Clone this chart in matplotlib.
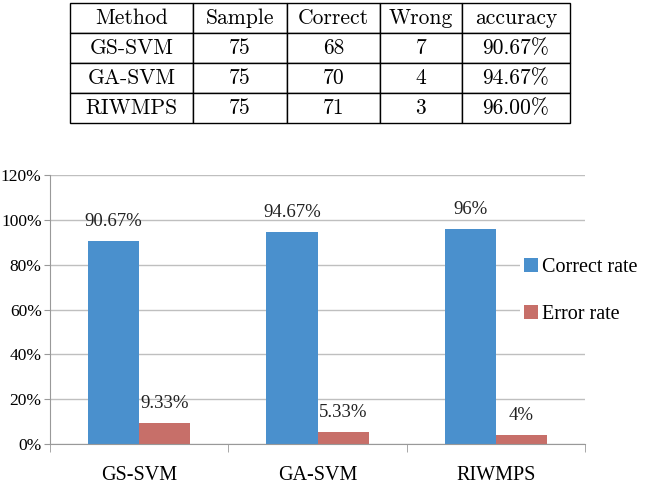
import matplotlib
matplotlib.use('Agg')
import matplotlib.pyplot as plt
import numpy as np

# данные
methods = ['GS-SVM', 'GA-SVM', 'RIWMPS']
samples = [75, 75, 75]
correct = [68, 70, 71]
wrong = [7, 4, 3]
accuracy = ['90.67%', '94.67%', '96.00%']

correct_rate = [90.67, 94.67, 96]
error_rate = [9.33, 5.33, 4]
correct_labels = ['90.67%', '94.67%', '96%']
error_labels = ['9.33%', '5.33%', '4%']

col_names = ['Method', 'Sample', 'Correct', 'Wrong', 'accuracy']

blue = '#4A90CD'
red = '#C76F69'
serif = ['Liberation Serif', 'DejaVu Serif']

fig = plt.figure(figsize=(6.46, 4.98), dpi=100)

# таблица сверху
tax = fig.add_axes([70 / 646, 1 - 123 / 498, 500 / 646, 120 / 498])
tax.axis('off')
cells = [[m, str(s), str(c), str(w), a]
         for m, s, c, w, a in zip(methods, samples, correct, wrong, accuracy)]
widths = np.array([122.7, 94, 93.3, 81.7, 108.3])
tbl = tax.table(cellText=cells, colLabels=col_names, cellLoc='center',
                colWidths=list(widths / widths.sum()), bbox=[0, 0, 1, 1])
tbl.auto_set_font_size(False)
for (r, c), cell in tbl.get_celld().items():
    cell.set_linewidth(1.0)
    cell.set_edgecolor('black')
    cell.get_text().set_fontsize(15.5)
    cell.get_text().set_family(['cmr10', 'DejaVu Serif'])

# столбчатая диаграмма
ax = fig.add_axes([50 / 646, 54 / 498, 535 / 646, 269 / 498])
x = np.arange(len(methods))
w = 0.286
b1 = ax.bar(x - w / 2, correct_rate, w, color=blue, label='Correct rate', zorder=2)
b2 = ax.bar(x + w / 2, error_rate, w, color=red, label='Error rate', zorder=2)

for rect, lab in zip(b1, correct_labels):
    ax.annotate(lab, (rect.get_x() + rect.get_width() / 2, rect.get_height()),
                xytext=(0, 14), textcoords='offset points', ha='center', va='center',
                fontsize=13.5, family=serif, color='#222222')
for rect, lab in zip(b2, error_labels):
    ax.annotate(lab, (rect.get_x() + rect.get_width() / 2, rect.get_height()),
                xytext=(0, 14), textcoords='offset points', ha='center', va='center',
                fontsize=13.5, family=serif, color='#222222')

ax.set_xlim(-0.5, len(methods) - 0.5)
ax.set_ylim(0, 120)
ax.set_yticks(np.arange(0, 121, 20))
ax.set_yticklabels([f'{v}%' for v in range(0, 121, 20)], family=serif, fontsize=12.5)
ax.set_xticks(x)
ax.set_xticklabels(methods, family=serif, fontsize=14.5)
ax.set_xticks(np.arange(-0.5, len(methods), 1), minor=True)
ax.tick_params(axis='x', which='major', length=0, pad=16)
ax.tick_params(axis='x', which='minor', length=6, color='#999999')
ax.tick_params(axis='y', length=4, color='#999999', pad=2)
ax.grid(axis='y', color='#BFBFBF', linewidth=1, zorder=0)
for s in ['top', 'right']:
    ax.spines[s].set_visible(False)
for s in ['left', 'bottom']:
    ax.spines[s].set_color('#999999')

leg = ax.legend(loc='center left', bbox_to_anchor=(520 / 646, (498 - 291) / 498),
                bbox_transform=fig.transFigure, prop={'family': serif, 'size': 14.5},
                frameon=True, facecolor='white', edgecolor='none', framealpha=1,
                fancybox=False, borderpad=0.2, handlelength=0.7, handleheight=0.7,
                handletextpad=0.2, labelspacing=1.4, borderaxespad=0)

plt.savefig('out.png', dpi=100)
